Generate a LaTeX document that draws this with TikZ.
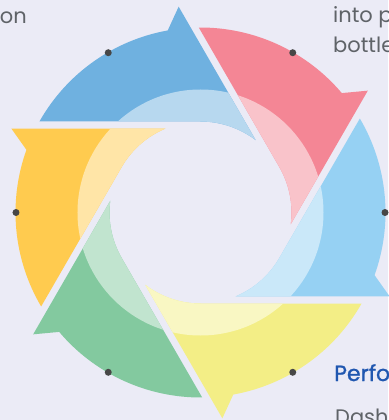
\documentclass[tikz,border=0pt]{standalone}
\usepackage{fontspec}
\setmainfont{Poppins}
\newfontfamily\titlefont[FakeBold=1.2]{Poppins}
\definecolor{bgc}{HTML}{EBEBF6}
\definecolor{cblue}{HTML}{6FB1E0}
\definecolor{cred}{HTML}{F48695}
\definecolor{csky}{HTML}{96D1F3}
\definecolor{cyellow}{HTML}{F3EE86}
\definecolor{cgreen}{HTML}{83C99F}
\definecolor{corange}{HTML}{FFCB4F}
\definecolor{dotc}{HTML}{474747}
\definecolor{txtgray}{HTML}{5F6368}
\definecolor{titleblue}{HTML}{2057B0}
\newcommand\arrowseg[2]{%
  \fill[#2] (#1+30.53:185) -- (#1-30:91)
    arc[start angle=#1-30,end angle=#1-67.38,radius=91]
    -- (#1-23.94:207) -- (#1-19.8:185)
    arc[start angle=#1-19.8,end angle=#1+30.53,radius=185] -- cycle;
  \begin{scope}
    \clip (#1+30.53:185) -- (#1-30:91)
      arc[start angle=#1-30,end angle=#1-67.38,radius=91]
      -- (#1-23.94:207) -- (#1-19.8:185)
      arc[start angle=#1-19.8,end angle=#1+30.53,radius=185] -- cycle;
    \fill[#2!50!white] (0,0) circle[radius=123];
  \end{scope}
}
\tikzset{
  dotmark/.style={circle,fill=dotc,inner sep=0pt,minimum size=7pt},
  bodytext/.style={anchor=base west,inner sep=0pt,text=txtgray,font=\fontsize{21}{29}\selectfont},
  titletext/.style={anchor=base west,inner sep=0pt,text=titleblue,font=\fontsize{22}{26}\selectfont\titlefont}
}
\begin{document}
\begin{tikzpicture}[x=1pt,y=1pt]
\useasboundingbox (-200.5,212.5) rectangle (187.5,-207.5);
\fill[bgc] (-200.5,212.5) rectangle (187.5,-207.5);
\arrowseg{120}{cblue}
\arrowseg{60}{cred}
\arrowseg{0}{csky}
\arrowseg{-60}{cyellow}
\arrowseg{-120}{cgreen}
\arrowseg{180}{corange}
\node[dotmark] (d1) at (120:184.5) {};
\node[dotmark] (d2) at (60:184.5) {};
\node[dotmark] (d3) at (0:184.5) {};
\node[dotmark] (d4) at (-60:184.5) {};
\node[dotmark] (d5) at (-120:184.5) {};
\node[dotmark] (d6) at (180:184.5) {};
\node[bodytext,anchor=base east] (t1) at (-173.5,189) {on};
\node[bodytext] (t2) at (132.5,189.5) {into p};
\node[bodytext] (t3) at (132.5,159.5) {bottle};
\node[titletext] (t4) at (133.5,-168.5) {Perfo};
\node[bodytext] (t5) at (134.5,-212) {Dashb};
\end{tikzpicture}
\end{document}
